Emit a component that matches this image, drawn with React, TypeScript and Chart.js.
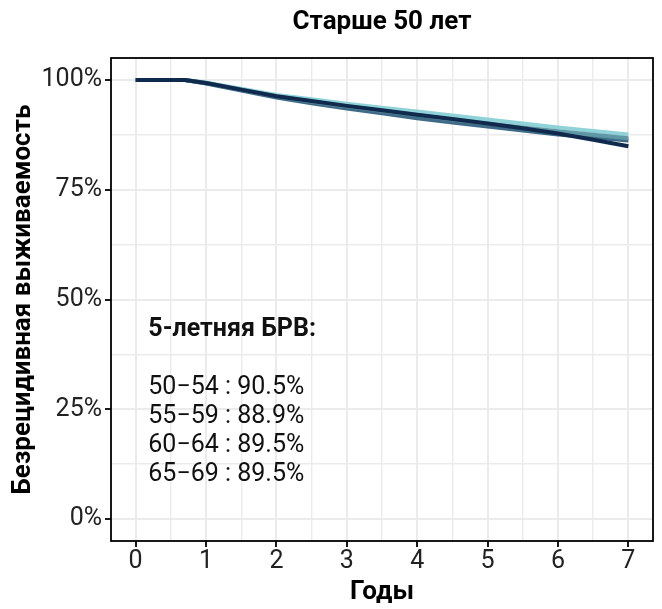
import React, { useEffect, useRef } from "react";
import { Chart, registerables } from "chart.js";

Chart.register(...registerables);

const years = [0, 0.5, 0.7, 1, 1.5, 2, 2.5, 3, 3.5, 4, 4.5, 5, 5.5, 6, 6.5, 7];
const survLight = [1, 1, 1, 0.994, 0.98, 0.966, 0.956, 0.946, 0.937, 0.928, 0.919, 0.91, 0.901, 0.892, 0.884, 0.876];
const survSteel = [1, 1, 1, 0.992, 0.976, 0.96, 0.947, 0.935, 0.924, 0.913, 0.903, 0.894, 0.885, 0.876, 0.869, 0.862];
const survTeal = [1, 1, 1, 0.993, 0.978, 0.963, 0.951, 0.94, 0.93, 0.92, 0.91, 0.901, 0.892, 0.883, 0.875, 0.867];
const survDark = [1, 1, 1, 0.993, 0.978, 0.963, 0.952, 0.941, 0.931, 0.921, 0.911, 0.901, 0.89, 0.878, 0.864, 0.849];

const groups = ["50−54", "55−59", "60−64", "65−69"];
const fiveYearRfs = ["90.5%", "88.9%", "89.5%", "89.5%"];
const xTicks = [0, 1, 2, 3, 4, 5, 6, 7];
const yTicks = [0, 0.25, 0.5, 0.75, 1];

const titleText = "Старше 50 лет";
const xTitle = "Годы";
const yTitle = "Безрецидивная выживаемость";
const annoTitle = "5-летняя БРВ:";

const FONT = "Roboto, 'DejaVu Sans', sans-serif";

// Chart.js draws lower-index datasets on top: dark first so it sits on top
const series = [
  { data: survDark, color: "#0f2a4d" },
  { data: survTeal, color: "#5f97a6" },
  { data: survSteel, color: "#3f6b86" },
  { data: survLight, color: "#8fd3d8" },
];

const overlayPlugin = {
  id: "overlay",
  afterDraw(chart: any) {
    const { ctx, chartArea, scales } = chart;
    ctx.save();
    ctx.strokeStyle = "#000";
    ctx.lineWidth = 1.8;
    ctx.strokeRect(chartArea.left, chartArea.top, chartArea.right - chartArea.left, chartArea.bottom - chartArea.top);
    ctx.fillStyle = "#000";
    ctx.font = `bold 26px ${FONT}`;
    ctx.textAlign = "center";
    ctx.textBaseline = "middle";
    ctx.fillText(titleText, (chartArea.left + chartArea.right) / 2, 22);
    ctx.font = `bold 26px ${FONT}`;
    ctx.fillText(xTitle, (chartArea.left + chartArea.right) / 2, 592);
    ctx.save();
    ctx.translate(23, (chartArea.top + chartArea.bottom) / 2);
    ctx.rotate(-Math.PI / 2);
    ctx.fillText(yTitle, 0, 0);
    ctx.restore();
    const x0 = scales.x.getPixelForValue(0.18);
    ctx.textAlign = "left";
    ctx.font = `bold 25px ${FONT}`;
    ctx.fillStyle = "#111";
    ctx.fillText(annoTitle, x0, scales.y.getPixelForValue(0.432));
    ctx.font = `25px ${FONT}`;
    groups.forEach((g, i) => {
      const yv = 0.3 - i * 0.066;
      ctx.fillText(`${g} : ${fiveYearRfs[i]}`, x0, scales.y.getPixelForValue(yv));
    });
    ctx.restore();
  },
};

export default function App() {
  const ref = useRef<HTMLCanvasElement>(null);
  useEffect(() => {
    if (!ref.current) return;
    const chart = new Chart(ref.current, {
      type: "line",
      data: {
        datasets: series.map((s) => ({
          data: years.map((t, i) => ({ x: t, y: s.data[i] })),
          borderColor: s.color,
          backgroundColor: s.color,
          borderWidth: 4,
          pointRadius: 0,
          tension: 0,
          fill: false,
        })),
      },
      options: {
        animation: false,
        responsive: false,
        maintainAspectRatio: false,
        layout: { padding: { top: 58, right: 9, left: 0, bottom: 0 } },
        plugins: { legend: { display: false }, tooltip: { enabled: false }, title: { display: false } },
        scales: {
          x: {
            type: "linear",
            min: -0.35,
            max: 7.35,
            afterBuildTicks: (axis: any) => {
              const t: any[] = [];
              for (let v = 0; v <= 7.001; v += 0.5) t.push({ value: v });
              axis.ticks = t;
            },
            afterFit: (axis: any) => {
              axis.height = 68;
            },
            ticks: {
              autoSkip: false,
              maxRotation: 0,
              padding: 0,
              color: "#222",
              font: { family: FONT, size: 25 },
              callback: (v: any) => (xTicks.includes(Number(v)) ? String(v) : ""),
            },
            grid: {
              color: "#ebebeb",
              lineWidth: (c: any) => (c.tick && Number.isInteger(c.tick.value) ? 2 : 1.4),
              tickColor: (c: any) => (c.tick && Number.isInteger(c.tick.value) ? "#000" : "rgba(0,0,0,0)"),
              tickWidth: 1.8,
              tickLength: 6,
              drawTicks: true,
            },
            border: { display: false },
            title: { display: false },
          },
          y: {
            type: "linear",
            min: -0.05,
            max: 1.05,
            afterBuildTicks: (axis: any) => {
              const t: any[] = [];
              for (let v = 0; v <= 1.0001; v += 0.125) t.push({ value: Math.round(v * 1000) / 1000 });
              axis.ticks = t;
            },
            afterFit: (axis: any) => {
              axis.width = 111;
            },
            ticks: {
              autoSkip: false,
              padding: 3,
              color: "#222",
              font: { family: FONT, size: 25 },
              callback: (v: any) => (yTicks.includes(Number(v)) ? `${Math.round(Number(v) * 100)}%` : ""),
            },
            grid: {
              color: "#ebebeb",
              lineWidth: (c: any) => (c.tick && yTicks.includes(c.tick.value) ? 2 : 1.4),
              tickColor: (c: any) => (c.tick && yTicks.includes(c.tick.value) ? "#000" : "rgba(0,0,0,0)"),
              tickWidth: 1.8,
              tickLength: 6,
              drawTicks: true,
            },
            border: { display: false },
            title: { display: false },
          },
        },
      },
      plugins: [overlayPlugin],
    });
    return () => chart.destroy();
  }, []);
  return (
    <div style={{ position: "absolute", left: 0, top: 0, width: 662, height: 609, background: "#fff" }}>
      <canvas ref={ref} width={662} height={609} style={{ width: 662, height: 609, display: "block" }} />
    </div>
  );
}
